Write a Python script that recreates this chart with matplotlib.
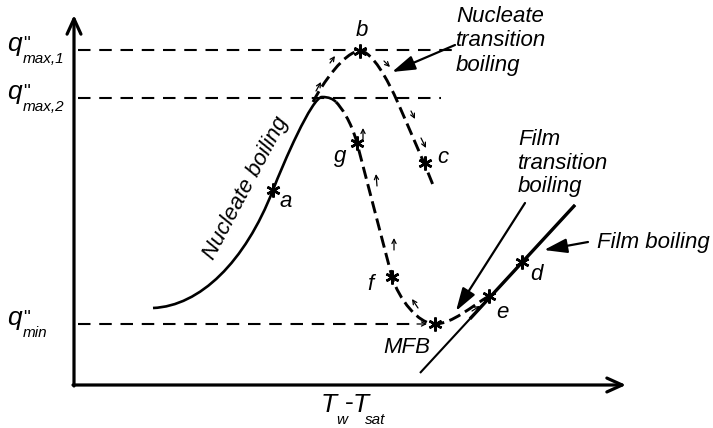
import matplotlib
matplotlib.use("Agg")
import matplotlib.pyplot as plt
from matplotlib.path import Path
from matplotlib.patches import PathPatch

# ---- drawing coordinates (pixel space, y grows downward) ----
# axes
origin = (74, 385)
y_axis_top = 15
x_axis_end = 626

# reference heat-flux levels: (label subscript, y, dashed line end x)
flux_levels = [("max,1", 50, 452), ("max,2", 98, 441), ("min", 324, 418)]

# nucleate boiling curve (cubic Bezier control points)
nucleate_curve = [(153, 308),
                  (200, 306), (245, 262), (273, 190),
                  (283, 164), (312, 97), (322, 97),
                  (329, 97), (333, 99), (336, 102)]

# cooling branch: past the peak through g, f, MFB up to e
cooling_curve = [(336, 102),
                 (341, 107), (351, 121), (357, 143),
                 (366, 177), (384, 247), (392, 277),
                 (399, 299), (418, 324), (435, 324),
                 (452, 324), (472, 306), (489, 296)]

# heating branch: from nucleate curve up to b then down through c
heating_curve = [(313, 102),
                 (322, 84), (345, 51), (360, 51),
                 (372, 51), (388, 80), (398, 103),
                 (408, 126), (424, 162), (433, 185)]

# film boiling line
film_x = [420, 575]
film_y = [373, 205]
film_thick_from = 470

# marked states
point_names = ["a", "b", "c", "g", "f", "MFB", "e", "d"]
point_x = [273, 360, 425, 357, 392, 435, 489, 522]
point_y = [190, 51, 163, 143, 277, 324, 296, 262]
label_x = [280, 356, 437, 334, 367, 383, 496, 530]
label_y = [207, 36, 163, 162, 290, 353, 318, 280]

# small direction arrows along the transition paths (tail, head)
dir_arrows = [((316, 91), (321, 82)), ((330, 63), (335, 56)),
              ((384, 61), (390, 67)), ((411, 111), (415, 119)),
              ((421, 138), (426, 148)), ((363, 139), (363, 128)),
              ((377, 186), (376, 174)), ((394, 250), (394, 238)),
              ((418, 308), (412, 299)), ((417, 324), (427, 324)),
              ((472, 311), (480, 306))]

# callout arrows (text anchor -> target)
callouts = [((455, 45), (392, 72)),
            ((525, 203), (456, 311)),
            ((588, 242), (544, 250))]

plt.rcParams["font.family"] = ["Liberation Sans", "DejaVu Sans"]

W, H = 713, 428
fig = plt.figure(figsize=(W / 100, H / 100), dpi=100)
ax = fig.add_axes([0, 0, 1, 1])
ax.set_xlim(0, W)
ax.set_ylim(H, 0)
ax.axis("off")

k = "black"
fs = 16


def bezier(points, **kw):
    codes = [Path.MOVETO] + [Path.CURVE4] * (len(points) - 1)
    patch = PathPatch(Path(points, codes), facecolor="none", edgecolor=k,
                      capstyle="butt", **kw)
    ax.add_patch(patch)


# axes with arrowheads
for start, end in [((origin[0], origin[1] + 1), (origin[0], y_axis_top)),
                   ((origin[0] - 1, origin[1]), (x_axis_end, origin[1]))]:
    ax.annotate("", xy=end, xytext=start,
                arrowprops=dict(arrowstyle="->,head_length=0.55,head_width=0.25",
                                lw=2.3, color=k, mutation_scale=20,
                                shrinkA=0, shrinkB=0))

# heat flux reference levels
for sub, yv, xend in flux_levels:
    ax.plot([origin[0] + 4, xend], [yv, yv], color=k, lw=1.5,
            dashes=(6, 4.2), solid_capstyle="butt")
    ax.text(7, yv + 1, "q", fontsize=19, style="italic", va="baseline",
            ha="left")
    ax.text(23, yv - 1, '"', fontsize=14, va="baseline", ha="left")
    ax.text(23, yv + 13, sub, fontsize=11, style="italic", va="baseline",
            ha="left")

# curves
bezier(nucleate_curve, lw=1.9)
bezier(cooling_curve, lw=2.1, linestyle=(0, (4.2, 1.9)))
bezier(heating_curve, lw=2.1, linestyle=(0, (4.2, 1.9)))

# film boiling line: thin lower part, heavier upper part
slope = (film_y[1] - film_y[0]) / (film_x[1] - film_x[0])
ax.plot(film_x, film_y, color=k, lw=1.5, solid_capstyle="butt")
ax.plot([film_thick_from, film_x[1]],
        [film_y[0] + slope * (film_thick_from - film_x[0]), film_y[1]],
        color=k, lw=2.4, solid_capstyle="butt")

# state markers and labels
ax.plot(point_x, point_y, linestyle="none", marker=(6, 2, 0), ms=10,
        mew=1.8, color=k)
for name, lx, ly in zip(point_names, label_x, label_y):
    ax.text(lx, ly, name, fontsize=fs, style="italic", ha="left",
            va="baseline")

# direction arrows
for (x0, y0), (x1, y1) in dir_arrows:
    ax.annotate("", xy=(x1, y1), xytext=(x0, y0),
                arrowprops=dict(arrowstyle="->,head_length=0.3,head_width=0.15",
                                lw=0.9, color=k, mutation_scale=10,
                                shrinkA=0, shrinkB=0))

# callouts
for (x0, y0), (x1, y1) in callouts:
    ax.annotate("", xy=(x1, y1), xytext=(x0, y0),
                arrowprops=dict(arrowstyle="-|>,head_length=0.7,head_width=0.22",
                                lw=1.6, color=k, mutation_scale=20,
                                shrinkA=0, shrinkB=0))

# region labels (multi-line blocks anchored at the last baseline)
ax.text(246, 188, "Nucleate boiling", fontsize=fs, style="italic",
        rotation=62, rotation_mode="anchor", ha="center", va="center")
ax.text(456, 71, "Nucleate\ntransition\nboiling", fontsize=fs,
        style="italic", ha="left", va="baseline", linespacing=1.22)
ax.text(518, 192, "Film\ntransition\nboiling", fontsize=fs,
        style="italic", ha="left", va="baseline", linespacing=1.15)
ax.text(597, 248, "Film boiling", fontsize=fs, style="italic", ha="left",
        va="baseline")

# abscissa label
ax.text(321, 412, "T", fontsize=19, style="italic", va="baseline")
ax.text(336, 424, "w", fontsize=11, style="italic", va="baseline")
ax.text(345, 410, "-", fontsize=19, va="baseline")
ax.text(353, 412, "T", fontsize=19, style="italic", va="baseline")
ax.text(365, 424, "sat", fontsize=11, style="italic", va="baseline")

fig.savefig("out.png", dpi=100)
